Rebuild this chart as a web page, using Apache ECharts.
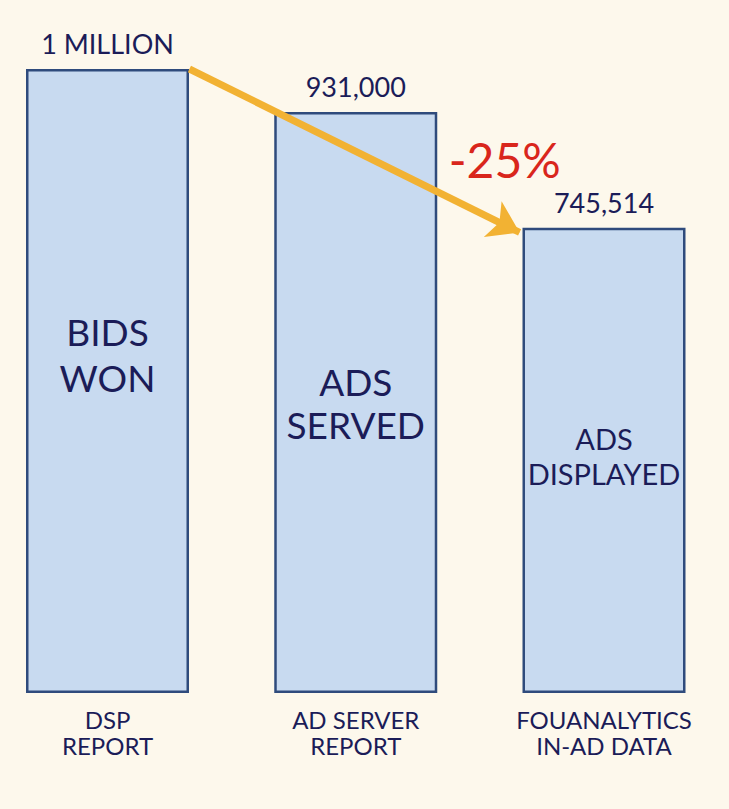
<!DOCTYPE html>
<html>
<head>
<meta charset="utf-8">
<script src="https://cdn.jsdelivr.net/npm/echarts@6/dist/echarts.min.js"></script>
<style>
  html, body { margin: 0; padding: 0; background: #fdf8ec; }
  #chart { width: 729px; height: 809px; }
</style>
</head>
<body>
<div id="chart"></div>
<script>
// data
var sources = ['DSP\nREPORT', 'AD SERVER\nREPORT', 'FOUANALYTICS\nIN-AD DATA'];
var stages = ['BIDS\nWON', 'ADS\nSERVED', 'ADS\nDISPLAYED'];
var counts = [1000000, 931000, 745514];
var countLabels = ['1 MILLION', '931,000', '745,514'];
var dropLabel = '-25%';

var navy = '#1b1c58';
var chart = echarts.init(document.getElementById('chart'), null, { renderer: 'svg' });

// inside label styling per bar
var insideSize = [37, 37, 29];
var insideLine = [46, 43, 35];
var insideOffset = [-27, 0, -4];

chart.setOption({
  animation: false,
  backgroundColor: '#fdf8ec',
  grid: { left: 107.5, right: 125, top: 69, bottom: 116 },
  xAxis: {
    type: 'value',
    min: 0,
    max: 2,
    interval: 1,
    splitLine: { show: false },
    axisLine: { show: false },
    axisTick: { show: false },
    axisLabel: {
      color: navy,
      fontFamily: 'Lato',
      fontSize: 24,
      lineHeight: 26,
      margin: 13,
      verticalAlign: 'top',
      formatter: function (v) { return sources[v] || ''; }
    }
  },
  yAxis: { type: 'value', min: 0, max: 1000000, show: false },
  series: [{
    type: 'bar',
    barWidth: 163,
    data: counts.map(function (c, i) {
      return {
        value: [i, c],
        label: {
          show: true,
          position: 'inside',
          formatter: stages[i],
          fontSize: insideSize[i],
          lineHeight: insideLine[i],
          offset: [0, insideOffset[i]],
          color: navy,
          fontFamily: 'Lato'
        }
      };
    }),
    itemStyle: { color: '#c8daf0', borderColor: '#2f4b7c', borderWidth: 2.5 },
    markLine: {
      silent: true,
      symbol: ['none', 'arrow'],
      symbolSize: [30, 30],
      lineStyle: { color: '#f2b233', width: 7, type: 'solid' },
      label: { show: false },
      data: [[{ coord: [0.33, counts[0]] }, { coord: [1.66, 738000] }]]
    },
    markPoint: {
      silent: true,
      symbolSize: 0,
      label: {
        show: true,
        formatter: dropLabel,
        color: '#d9261c',
        fontFamily: 'Lato',
        fontSize: 48
      },
      data: [{ coord: [1.6, 855000] }]
    },
    z: 2
  }, {
    // value labels above bars
    type: 'bar',
    barWidth: 163,
    barGap: '-100%',
    data: counts.map(function (c, i) { return [i, c]; }),
    itemStyle: { color: 'transparent' },
    label: {
      show: true,
      position: 'top',
      distance: 12,
      color: navy,
      fontFamily: 'Lato',
      fontSize: 27,
      formatter: function (p) { return countLabels[p.dataIndex]; }
    },
    z: 1
  }]
});
</script>
</body>
</html>
